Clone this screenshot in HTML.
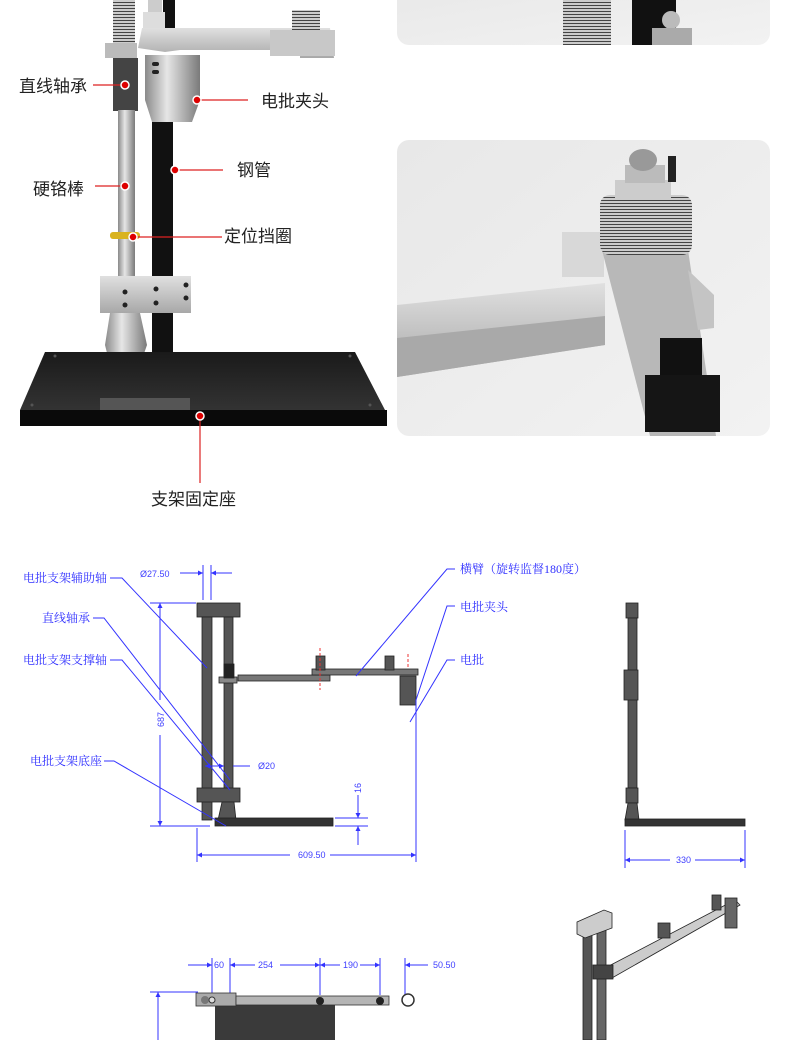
<!DOCTYPE html>
<html><head><meta charset="utf-8"><style>
html,body{margin:0;padding:0;background:#fff}
svg{display:block}
.lab{font-family:"Liberation Sans","Noto Sans CJK SC",sans-serif;font-size:17px;fill:#222}
.bl{font-family:"Liberation Serif","Noto Serif CJK SC",serif;font-size:12px;fill:#3030ff}
.dm{font-family:"Liberation Sans",sans-serif;font-size:9px;fill:#4040ff}
</style></head><body>
<svg width="790" height="1040" viewBox="0 0 790 1040" xmlns="http://www.w3.org/2000/svg">
<defs>
<linearGradient id="met" x1="0" x2="1"><stop offset="0" stop-color="#8a8a8a"/><stop offset=".4" stop-color="#e6e6e6"/><stop offset="1" stop-color="#7a7a7a"/></linearGradient>
<linearGradient id="alu" x1="0" y1="0" x2="0" y2="1"><stop offset="0" stop-color="#e0e0e0"/><stop offset="1" stop-color="#a8a8a8"/></linearGradient>
<linearGradient id="bg" x1="0" y1="0" x2="1" y2="1"><stop offset="0" stop-color="#e8e8e8"/><stop offset="1" stop-color="#f2f2f2"/></linearGradient>
<linearGradient id="plate" x1="0" y1="0" x2="0" y2="1"><stop offset="0" stop-color="#1a1a1a"/><stop offset="1" stop-color="#333"/></linearGradient>
<pattern id="spr" width="6" height="3" patternUnits="userSpaceOnUse"><rect width="6" height="3" fill="#ccc"/><rect y="2" width="6" height="1" fill="#444"/></pattern>
<marker id="ar" viewBox="0 0 10 10" refX="10" refY="5" markerWidth="7" markerHeight="5" orient="auto-start-reverse"><path d="M0,0 L10,5 L0,10 Z" fill="#3333ff"/></marker>
</defs>

<rect x="397" y="-20" width="373" height="65" rx="12" fill="url(#bg)"/>
<rect x="563" y="0" width="48" height="45" fill="url(#spr)"/>
<rect x="632" y="0" width="44" height="45" fill="#111"/>
<circle cx="671" cy="20" r="9" fill="#bbb"/>
<rect x="652" y="28" width="40" height="17" fill="#aaa"/>

<rect x="397" y="140" width="373" height="296" rx="12" fill="url(#bg)"/>
<polygon points="397,305 605,283 605,345 397,377" fill="url(#alu)"/>
<polygon points="397,338 605,316 605,345 397,377" fill="#a9a9a9"/>
<rect x="562" y="232" width="42" height="45" fill="#d8d8d8"/>
<polygon points="602,250 688,250 716,436 650,436" fill="#b8b8b8"/>
<polygon points="688,270 714,295 714,328 698,330" fill="#c4c4c4"/>
<rect x="600" y="195" width="92" height="60" rx="10" fill="url(#spr)"/>
<rect x="615" y="180" width="56" height="18" fill="#ccc"/>
<rect x="625" y="165" width="40" height="18" fill="#bbb"/>
<ellipse cx="643" cy="160" rx="14" ry="11" fill="#999"/>
<rect x="668" y="156" width="8" height="26" fill="#222"/>
<rect x="660" y="338" width="42" height="50" fill="#111"/>
<rect x="645" y="375" width="75" height="57" fill="#151515"/>

<rect x="113" y="0" width="22" height="44" fill="url(#spr)"/>
<rect x="148" y="0" width="14" height="18" fill="#ccc"/>
<rect x="163" y="0" width="12" height="30" fill="#111"/>
<rect x="143" y="12" width="22" height="22" fill="#ddd"/>
<polygon points="142,28 330,28 334,58 300,58 300,50 180,50 165,52 138,48" fill="url(#alu)"/>
<rect x="270" y="30" width="65" height="26" fill="#c8c8c8"/>
<rect x="292" y="10" width="28" height="20" fill="url(#spr)"/>
<rect x="105" y="43" width="32" height="15" fill="#bbb"/>
<rect x="113" y="58" width="25" height="53" fill="#444"/>
<rect x="118" y="110" width="17" height="170" fill="url(#met)"/>
<path d="M145,55 H200 V100 L192,122 H152 L145,100 Z" fill="url(#met)"/>
<rect x="152" y="62" width="7" height="4" rx="2" fill="#222"/>
<rect x="152" y="70" width="7" height="4" rx="2" fill="#222"/>
<rect x="152" y="122" width="21" height="240" fill="#111"/>
<rect x="110" y="232" width="30" height="7" rx="3" fill="#d9b320"/>
<rect x="100" y="276" width="91" height="37" fill="url(#alu)"/>
<g fill="#222"><circle cx="125" cy="292" r="2.5"/><circle cx="125" cy="305" r="2.5"/><circle cx="156" cy="289" r="2.5"/><circle cx="156" cy="303" r="2.5"/><circle cx="186" cy="285" r="2.5"/><circle cx="186" cy="298" r="2.5"/></g>
<path d="M110,313 H140 L147,345 L140,365 L145,395 L135,400 H115 L105,395 L110,365 L105,345 Z" fill="url(#met)"/>
<polygon points="45,352 355,352 385,410 20,410" fill="url(#plate)"/>
<rect x="20" y="410" width="367" height="16" fill="#0a0a0a"/>
<rect x="100" y="398" width="90" height="12" fill="#555"/>
<g fill="#555"><circle cx="55" cy="356" r="1.5"/><circle cx="350" cy="356" r="1.5"/><circle cx="32" cy="405" r="1.5"/><circle cx="370" cy="405" r="1.5"/></g>

<g stroke="#d22" stroke-width="1.2" fill="none">
<line x1="93" y1="85" x2="125" y2="85"/>
<line x1="197" y1="100" x2="248" y2="100"/>
<line x1="175" y1="170" x2="223" y2="170"/>
<line x1="95" y1="186" x2="125" y2="186"/>
<line x1="133" y1="237" x2="222" y2="237"/>
<line x1="200" y1="416" x2="200" y2="483"/>
</g>
<g fill="#d00" stroke="#fff" stroke-width="1.5">
<circle cx="125" cy="85" r="4"/><circle cx="197" cy="100" r="4"/><circle cx="175" cy="170" r="4"/>
<circle cx="125" cy="186" r="4"/><circle cx="133" cy="237" r="4"/><circle cx="200" cy="416" r="4"/>
</g>
<text class="lab" x="19" y="92">直线轴承</text>
<text class="lab" x="261" y="107">电批夹头</text>
<text class="lab" x="237" y="176">钢管</text>
<text class="lab" x="33" y="195">硬铬棒</text>
<text class="lab" x="224" y="242">定位挡圈</text>
<text class="lab" x="151" y="505">支架固定座</text>

<g fill="#555" stroke="#222" stroke-width=".8">
<rect x="197" y="603" width="43" height="14"/>
<rect x="202" y="617" width="10" height="203"/>
<rect x="224" y="617" width="9" height="172"/>
<rect x="197" y="788" width="43" height="14"/>
<polygon points="222,802 234,802 236,820 218,820"/>
<rect x="215" y="818" width="118" height="8" fill="#333"/>
<rect x="238" y="675" width="92" height="6" fill="#777"/>
<rect x="312" y="669" width="106" height="6" fill="#777"/>
<rect x="219" y="677" width="18" height="6" fill="#888"/>
<rect x="224" y="664" width="10" height="14" fill="#222"/>
<rect x="316" y="656" width="9" height="14"/>
<rect x="385" y="656" width="9" height="14"/>
<rect x="400" y="676" width="16" height="29"/>
</g>
<g stroke="#e33" stroke-width="1" stroke-dasharray="3,2"><line x1="320" y1="648" x2="320" y2="690"/><line x1="408" y1="654" x2="408" y2="668"/></g>

<g stroke="#3333ff" stroke-width="1" fill="none">
<polyline points="110,578 122,578 207,668"/>
<polyline points="93,618 104,618 230,780"/>
<polyline points="110,660 122,660 230,790"/>
<polyline points="104,761 114,761 226,826"/>
<polyline points="455,569 447,569 356,676"/>
<polyline points="455,606 447,606 416,700"/>
<polyline points="455,660 447,660 410,722"/>
<line x1="203" y1="565" x2="203" y2="600"/><line x1="211" y1="565" x2="211" y2="600"/>
<line x1="180" y1="573" x2="203" y2="573" marker-end="url(#ar)"/><line x1="232" y1="573" x2="211" y2="573" marker-end="url(#ar)"/>
<line x1="150" y1="603" x2="196" y2="603"/><line x1="150" y1="826" x2="210" y2="826"/>
<line x1="160" y1="700" x2="160" y2="603" marker-end="url(#ar)"/><line x1="160" y1="735" x2="160" y2="826" marker-end="url(#ar)"/>
<line x1="205" y1="766" x2="224" y2="766" marker-start="url(#ar)" marker-end="url(#ar)"/><line x1="233" y1="766" x2="250" y2="766"/>
<line x1="197" y1="828" x2="197" y2="862"/><line x1="416" y1="700" x2="416" y2="862"/>
<line x1="290" y1="855" x2="197" y2="855" marker-end="url(#ar)"/><line x1="330" y1="855" x2="416" y2="855" marker-end="url(#ar)"/>
<line x1="335" y1="818" x2="368" y2="818"/><line x1="335" y1="826" x2="368" y2="826"/>
<line x1="358" y1="795" x2="358" y2="818" marker-end="url(#ar)"/><line x1="358" y1="845" x2="358" y2="826" marker-end="url(#ar)"/>
<line x1="625" y1="830" x2="625" y2="868"/><line x1="745" y1="830" x2="745" y2="868"/>
<line x1="670" y1="860" x2="625" y2="860" marker-end="url(#ar)"/><line x1="695" y1="860" x2="745" y2="860" marker-end="url(#ar)"/>
<line x1="188" y1="965" x2="212" y2="965" marker-end="url(#ar)"/><line x1="255" y1="965" x2="230" y2="965" marker-end="url(#ar)"/>
<line x1="280" y1="965" x2="320" y2="965" marker-end="url(#ar)"/><line x1="340" y1="965" x2="320" y2="965" marker-end="url(#ar)"/>
<line x1="360" y1="965" x2="380" y2="965" marker-end="url(#ar)"/><line x1="428" y1="965" x2="405" y2="965" marker-end="url(#ar)"/>
<line x1="212" y1="958" x2="212" y2="995"/><line x1="230" y1="958" x2="230" y2="995"/>
<line x1="320" y1="958" x2="320" y2="995"/><line x1="380" y1="958" x2="380" y2="995"/><line x1="405" y1="958" x2="405" y2="995"/>
<line x1="150" y1="992" x2="198" y2="992"/><line x1="158" y1="1040" x2="158" y2="992" marker-end="url(#ar)"/>
</g>
<text class="bl" x="23" y="582">电批支架辅助轴</text>
<text class="bl" x="42" y="622">直线轴承</text>
<text class="bl" x="23" y="664">电批支架支撑轴</text>
<text class="bl" x="30" y="765">电批支架底座</text>
<text class="bl" x="460" y="573">横臂（旋转监督180度）</text>
<text class="bl" x="460" y="611">电批夹头</text>
<text class="bl" x="460" y="664">电批</text>
<text class="dm" x="140" y="577">Ø27.50</text>
<text class="dm" x="258" y="769">Ø20</text>
<text class="dm" x="298" y="858">609.50</text>
<text class="dm" x="676" y="863">330</text>
<text class="dm" transform="translate(164,727) rotate(-90)">687</text>
<text class="dm" transform="translate(361,793) rotate(-90)">16</text>
<text class="dm" x="214" y="968">60</text>
<text class="dm" x="258" y="968">254</text>
<text class="dm" x="343" y="968">190</text>
<text class="dm" x="433" y="968">50.50</text>

<g fill="#555" stroke="#222" stroke-width=".8">
<rect x="626" y="603" width="12" height="15"/>
<rect x="628" y="618" width="9" height="170"/>
<rect x="624" y="670" width="14" height="30"/>
<rect x="626" y="788" width="12" height="15"/>
<polygon points="628,803 637,803 639,820 625,820"/>
<rect x="625" y="819" width="120" height="7" fill="#333"/>
</g>

<rect x="215" y="997" width="120" height="43" fill="#3a3a3a"/>
<rect x="196" y="993" width="40" height="13" fill="#aaa" stroke="#333" stroke-width=".8"/>
<rect x="236" y="996" width="153" height="9" fill="#b5b5b5" stroke="#333" stroke-width=".8"/>
<circle cx="205" cy="1000" r="4" fill="#777"/><circle cx="212" cy="1000" r="3" fill="#ddd" stroke="#333"/>
<circle cx="320" cy="1001" r="4" fill="#222"/><circle cx="380" cy="1001" r="4" fill="#222"/>
<circle cx="408" cy="1000" r="6" fill="#fff" stroke="#333" stroke-width="1.5"/>

<g stroke="#222" stroke-width=".8">
<rect x="583" y="928" width="9" height="112" fill="#555"/>
<rect x="597" y="925" width="9" height="115" fill="#666"/>
<polygon points="577,922 604,910 612,913 612,928 585,938 577,934" fill="#ccc"/>
<polygon points="605,968 735,900 740,905 612,978" fill="#ccc"/>
<rect x="593" y="965" width="20" height="14" fill="#444"/>
<rect x="658" y="923" width="12" height="15" fill="#555"/>
<rect x="712" y="895" width="9" height="15" fill="#555"/>
<rect x="725" y="898" width="12" height="30" fill="#666"/>
</g>
</svg>
</body></html>
